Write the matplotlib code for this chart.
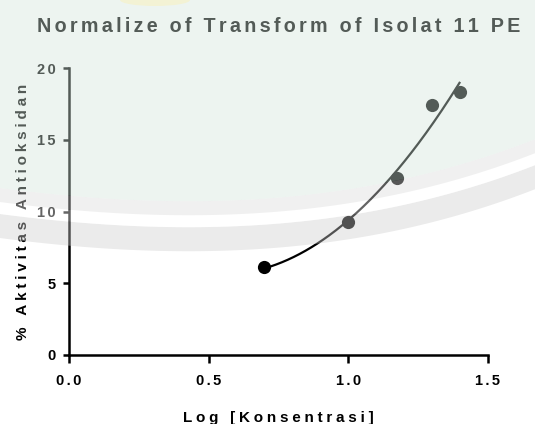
# Normalize of Transform of Isolat 11 PE: % aktivitas antioksidan vs log konsentrasi

import numpy as np
import matplotlib
matplotlib.use("Agg")
import matplotlib.pyplot as plt
from matplotlib.patches import Polygon, Ellipse

# values
log_konsentrasi = [0.699, 1.0, 1.176, 1.301, 1.398]
aktivitas = [6.1, 9.3, 12.3, 17.4, 18.3]
x_ticks = [0.0, 0.5, 1.0, 1.5]
x_tick_labels = ["0.0", "0.5", "1.0", "1.5"]
y_ticks = [0, 5, 10, 15, 20]
y_tick_labels = ["0", "5", "10", "15", "20"]
title = "Normalize of Transform of Isolat 11 PE"
x_label = "Log [Konsentrasi]"
y_label = "% Aktivitas Antioksidan"


def spaced(s, sep="\u2006"):
    # the original has wide letter spacing, fake it with thin unicode spaces
    return sep.join(s)


plt.rcParams["font.family"] = "Liberation Sans"

W, H = 535, 424
fig = plt.figure(figsize=(W / 100, H / 100), dpi=100)
ax = fig.add_axes([69 / W, 1 - 355 / H, (488 - 69) / W, (355 - 68) / H])

# second order fit through the points, drawn over the measured range
coef = np.polyfit(log_konsentrasi, aktivitas, 2)
xf = np.linspace(min(log_konsentrasi), max(log_konsentrasi), 200)
ax.plot(xf, np.polyval(coef, xf), color="black", lw=1.6, zorder=2, clip_on=False)
ax.plot(log_konsentrasi, aktivitas, "o", color="black", ms=9.5, mew=0, zorder=3, clip_on=False)

ax.set_xlim(0, 1.5)
ax.set_ylim(0, 20)
ax.spines[["top", "right"]].set_visible(False)
for side in ["left", "bottom"]:
    ax.spines[side].set_linewidth(1.8)
ax.set_xticks(x_ticks, [spaced(t) for t in x_tick_labels], fontsize=10.5, fontweight="bold")
ax.set_yticks(y_ticks, [spaced(t) for t in y_tick_labels], fontsize=10.5, fontweight="bold")
ax.tick_params(axis="x", length=5.5, width=1.8, pad=8)
ax.tick_params(axis="y", length=4.2, width=1.8, pad=5.5)

ax.text(0.5, (355 - 32.3) / 287, spaced(title), transform=ax.transAxes,
        ha="center", va="baseline", fontsize=14.2, fontweight="bold")
ax.set_xlabel(spaced(x_label, "\u2006\u200a"), fontsize=11, fontweight="bold")
ax.xaxis.label.set_va("baseline")
ax.xaxis.set_label_coords(0.5, -(421.7 - 355) / 287)
ax.set_ylabel(spaced(y_label, "\u2006\u200a"), fontsize=11, fontweight="bold")
ax.yaxis.label.set_va("baseline")
ax.yaxis.set_label_coords((26.7 - 69) / 419, 0.498)

# faint library watermark laid over the chart (semi transparent)
edge_x = [0, 69, 190, 310, 400, 470, 535]
edge_y = [238, 246, 250, 246, 230, 210, 190]
xx = np.linspace(0, W, 300)
yy = np.polyval(np.polyfit(edge_x, edge_y, 3), xx)


def wm_poly(px, py, color):
    pts = np.column_stack([np.asarray(px) / W, 1 - np.asarray(py) / H])
    fig.add_artist(Polygon(pts, closed=True, transform=fig.transFigure,
                           facecolor=color, edgecolor="none", lw=0, alpha=0.4, zorder=10))


for d0, d1, c in [(0, 24, "#cdcdcd"), (24, 36, "#ffffff"), (36, 50, "#dadada")]:
    wm_poly(np.r_[xx, xx[::-1]], np.r_[yy - d0, (yy - d1)[::-1]], c)
wm_poly(np.r_[xx, W, 0], np.r_[yy - 50, -2, -2], "#d2e4da")
fig.add_artist(Ellipse((155 / W, 1.0), 70 / W, 12 / H, transform=fig.transFigure,
                       facecolor="#fff0a0", edgecolor="none", alpha=0.35, zorder=11))

fig.savefig("out.png", dpi=100)
